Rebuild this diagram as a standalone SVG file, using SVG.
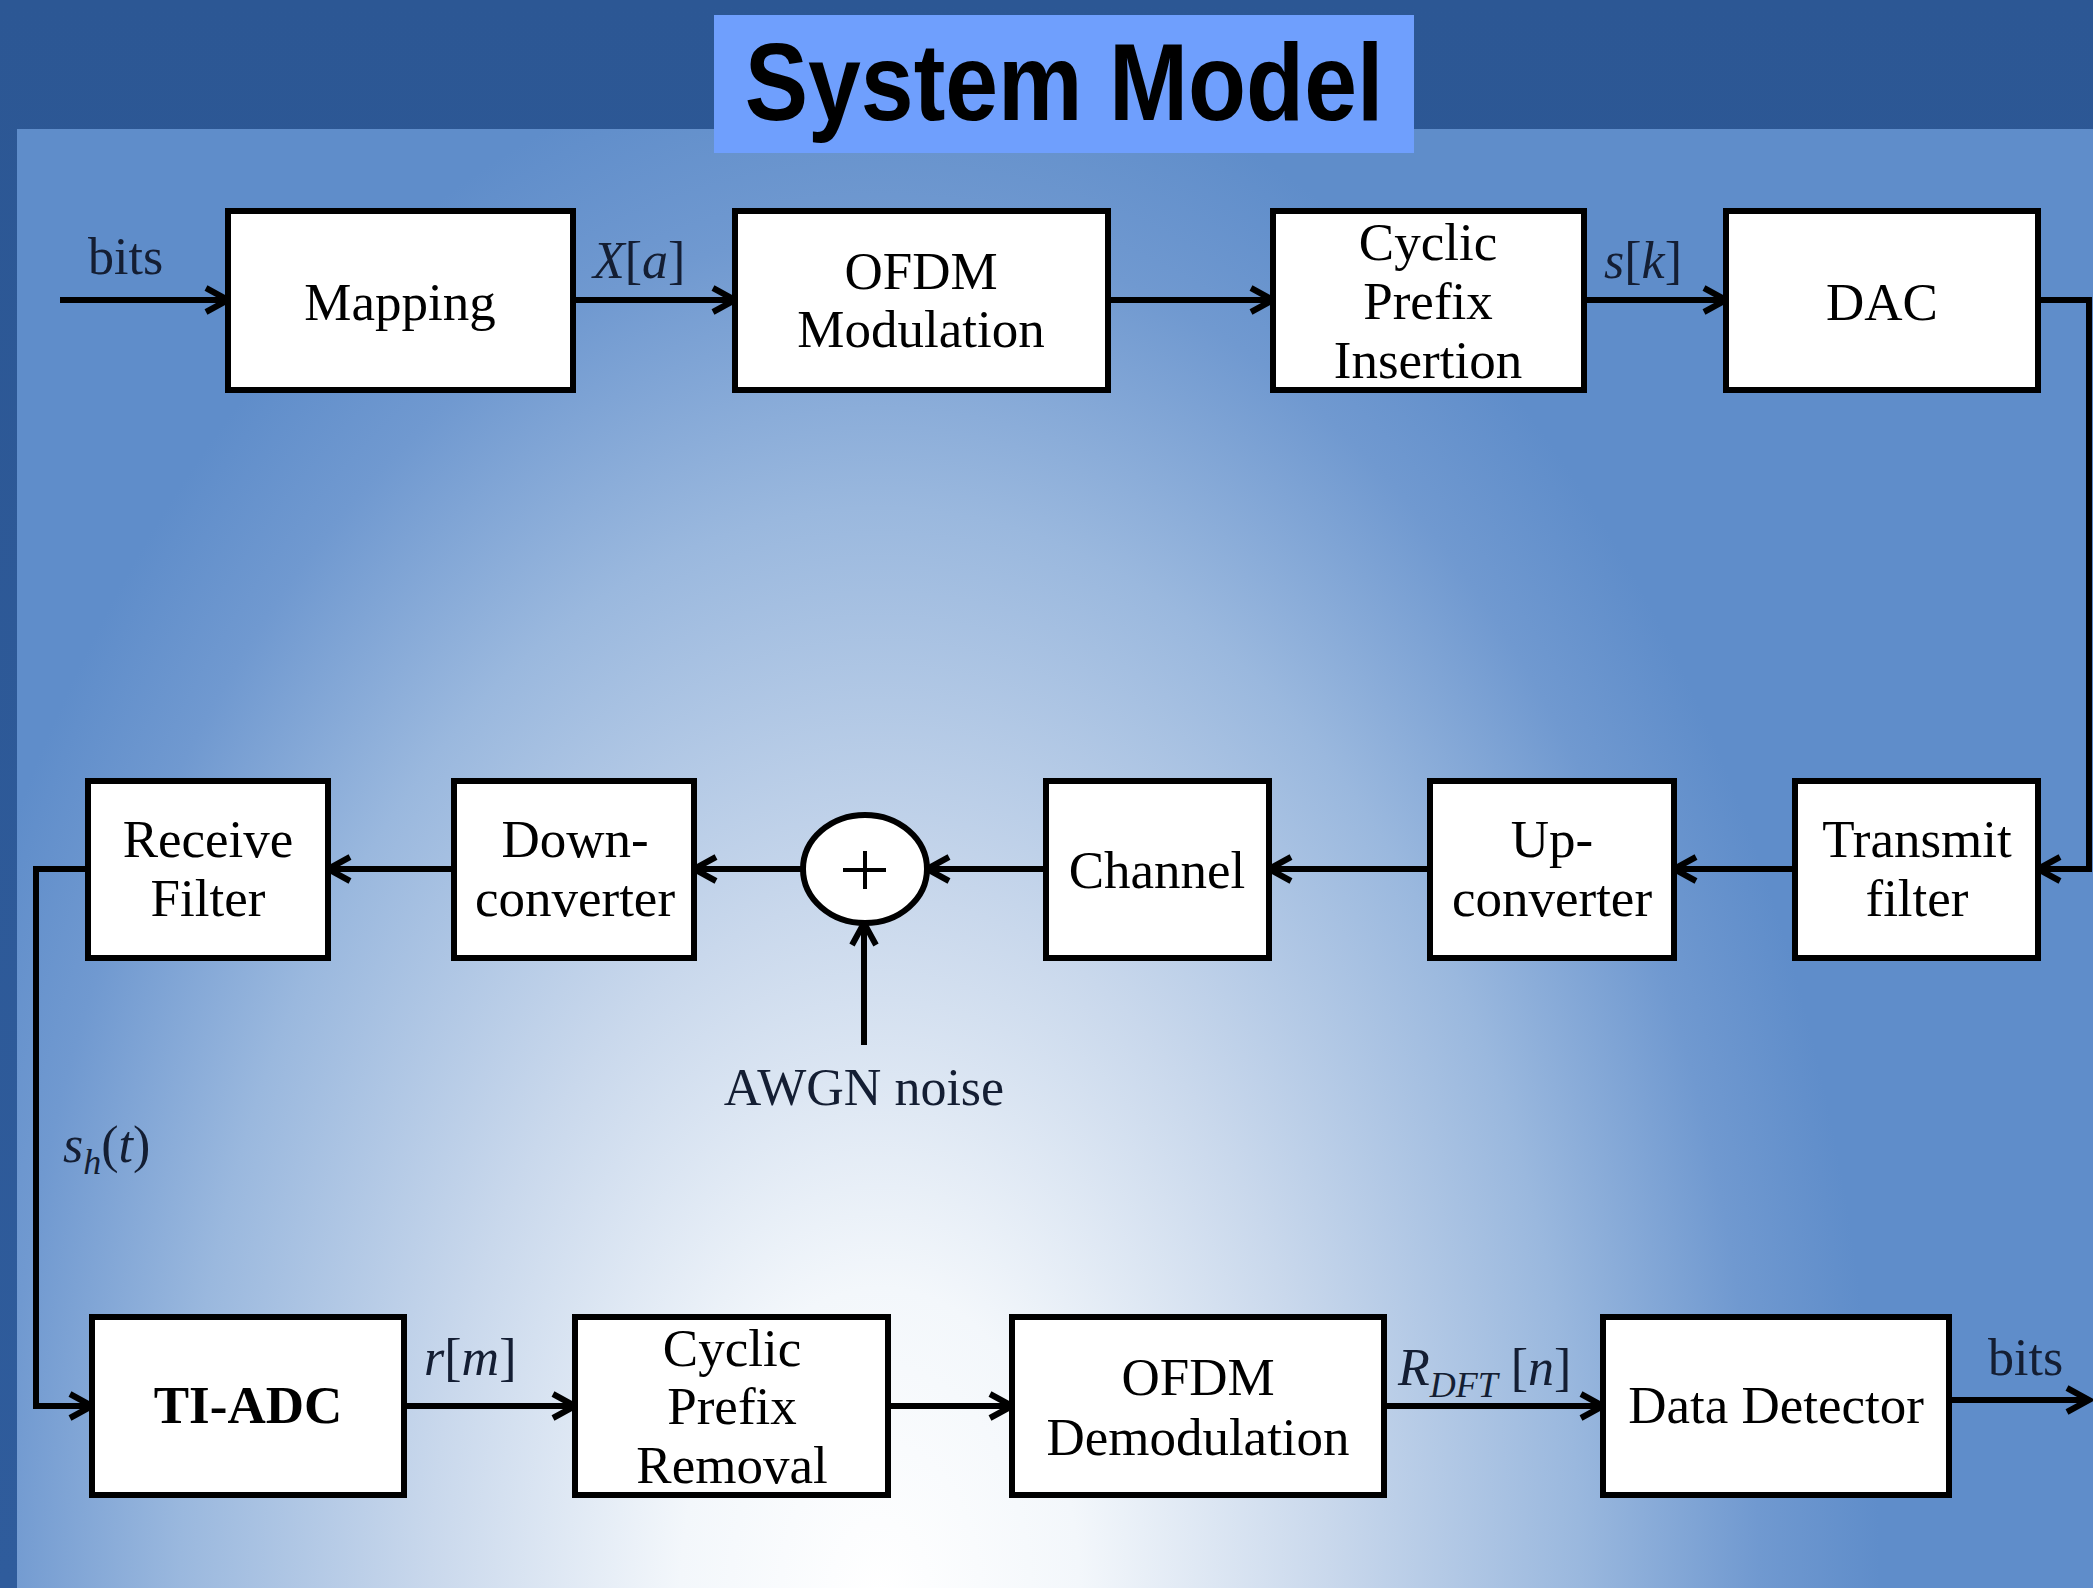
<svg xmlns="http://www.w3.org/2000/svg" width="2093" height="1588" viewBox="0 0 2093 1588">
<style>
.box{fill:#ffffff;stroke:#000000;stroke-width:6}
.t{font-family:"Liberation Serif","Times New Roman",serif;font-size:53px;fill:#000000;text-anchor:middle}
.lbl{font-family:"Liberation Serif","Times New Roman",serif;font-size:52px;fill:#141e33}
.it{font-style:italic}
.conn{fill:none;stroke:#000000;stroke-width:6}
</style>
<defs>
<radialGradient id="bg" gradientUnits="userSpaceOnUse" cx="0" cy="0" r="1" gradientTransform="translate(880 1600) scale(1000 1560)">
<stop offset="0" stop-color="#ffffff"/>
<stop offset="0.2" stop-color="#f3f7fb"/>
<stop offset="0.45" stop-color="#c9d8ec"/>
<stop offset="0.7" stop-color="#9ab8de"/>
<stop offset="0.88" stop-color="#7099d0"/>
<stop offset="1" stop-color="#5f8dca"/>
</radialGradient>
<linearGradient id="top" x1="0" y1="0" x2="0" y2="1">
<stop offset="0" stop-color="#2c5794"/>
<stop offset="1" stop-color="#2f5c9c"/>
</linearGradient>
<marker id="ah" markerWidth="30" markerHeight="30" refX="25" refY="14" orient="auto" markerUnits="userSpaceOnUse" overflow="visible">
<path d="M3 2 L25 14 L3 26" fill="none" stroke="#000000" stroke-width="6"/>
</marker>
</defs>
<rect x="0" y="0" width="2093" height="1588" fill="url(#top)"/>
<rect x="17" y="129" width="2076" height="1459" fill="url(#bg)"/>
<g id="title">
<rect x="714" y="15" width="700" height="138" fill="#6f9ffd"/>
<text transform="translate(1064 120) scale(1 1.15)" x="0" y="0" font-family="Liberation Sans, Arial, sans-serif" font-weight="bold" font-size="95" text-anchor="middle" fill="#000000">System Model</text>
</g>
<g id="connectors">
<path class="conn" d="M60 300 H228" marker-end="url(#ah)"/>
<path class="conn" d="M573 300 H735" marker-end="url(#ah)"/>
<path class="conn" d="M1108 300 H1273" marker-end="url(#ah)"/>
<path class="conn" d="M1584 300 H1726" marker-end="url(#ah)"/>
<path class="conn" d="M2038 300 H2089 V869 H2038" marker-end="url(#ah)"/>
<path class="conn" d="M1795 869 H1674" marker-end="url(#ah)"/>
<path class="conn" d="M1430 869 H1269" marker-end="url(#ah)"/>
<path class="conn" d="M1046 869 H927" marker-end="url(#ah)"/>
<path class="conn" d="M803 869 H694" marker-end="url(#ah)"/>
<path class="conn" d="M454 869 H328" marker-end="url(#ah)"/>
<path class="conn" d="M864 1045 V923" marker-end="url(#ah)"/>
<path class="conn" d="M88 869 H36 V1406 H92" marker-end="url(#ah)"/>
<path class="conn" d="M404 1406 H575" marker-end="url(#ah)"/>
<path class="conn" d="M888 1406 H1012" marker-end="url(#ah)"/>
<path class="conn" d="M1384 1406 H1603" marker-end="url(#ah)"/>
<path class="conn" d="M1949 1400 H2089" marker-end="url(#ah)"/>
</g>
<g id="labels">
<text class="lbl" x="88" y="274">bits</text>
<text class="lbl" x="593" y="278"><tspan class="it">X</tspan>[<tspan class="it">a</tspan>]</text>
<text class="lbl" x="1604" y="278"><tspan class="it">s</tspan>[<tspan class="it">k</tspan>]</text>
<text class="lbl" x="63" y="1162"><tspan class="it">s</tspan><tspan class="it" font-size="36" dy="12">h</tspan><tspan dy="-12">(</tspan><tspan class="it">t</tspan>)</text>
<text class="lbl" x="424" y="1375"><tspan class="it">r</tspan>[<tspan class="it">m</tspan>]</text>
<text class="lbl" x="1398" y="1385"><tspan class="it">R</tspan><tspan class="it" font-size="36" dy="12">DFT</tspan><tspan dy="-12"> [</tspan><tspan class="it">n</tspan>]</text>
<text class="lbl" x="1988" y="1375">bits</text>
<text class="lbl" x="864" y="1105" text-anchor="middle" font-size="56">AWGN noise</text>
</g>
<g id="mapping"><rect class="box" x="228" y="211" width="345" height="179"/><text class="t" x="400" y="320">Mapping</text></g>
<g id="ofdm-mod"><rect class="box" x="735" y="211" width="373" height="179"/><text class="t" x="921" y="289">OFDM</text><text class="t" x="921" y="347">Modulation</text></g>
<g id="cp-insert"><rect class="box" x="1273" y="211" width="311" height="179"/><text class="t" x="1428" y="260">Cyclic</text><text class="t" x="1428" y="319">Prefix</text><text class="t" x="1428" y="378">Insertion</text></g>
<g id="dac"><rect class="box" x="1726" y="211" width="312" height="179"/><text class="t" x="1882" y="320">DAC</text></g>
<g id="transmit-filter"><rect class="box" x="1795" y="781" width="243" height="177"/><text class="t" x="1917" y="857">Transmit</text><text class="t" x="1917" y="916">filter</text></g>
<g id="up-converter"><rect class="box" x="1430" y="781" width="244" height="177"/><text class="t" x="1552" y="857">Up-</text><text class="t" x="1552" y="916">converter</text></g>
<g id="channel"><rect class="box" x="1046" y="781" width="223" height="177"/><text class="t" x="1157" y="888">Channel</text></g>
<g id="sum"><ellipse cx="865" cy="869" rx="62" ry="54" fill="#ffffff" stroke="#000000" stroke-width="6"/><path d="M843 870 H886 M865 851 V889" stroke="#000000" stroke-width="4" fill="none"/></g>
<g id="down-converter"><rect class="box" x="454" y="781" width="240" height="177"/><text class="t" x="575" y="857">Down-</text><text class="t" x="575" y="916">converter</text></g>
<g id="receive-filter"><rect class="box" x="88" y="781" width="240" height="177"/><text class="t" x="208" y="857">Receive</text><text class="t" x="208" y="916">Filter</text></g>
<g id="ti-adc"><rect class="box" x="92" y="1317" width="312" height="178"/><text class="t" x="248" y="1423" font-weight="bold">TI-ADC</text></g>
<g id="cp-removal"><rect class="box" x="575" y="1317" width="313" height="178"/><text class="t" x="732" y="1366">Cyclic</text><text class="t" x="732" y="1424">Prefix</text><text class="t" x="732" y="1483">Removal</text></g>
<g id="ofdm-demod"><rect class="box" x="1012" y="1317" width="372" height="178"/><text class="t" x="1198" y="1395">OFDM</text><text class="t" x="1198" y="1455">Demodulation</text></g>
<g id="data-detector"><rect class="box" x="1603" y="1317" width="346" height="178"/><text class="t" x="1776" y="1423">Data Detector</text></g>
</svg>
